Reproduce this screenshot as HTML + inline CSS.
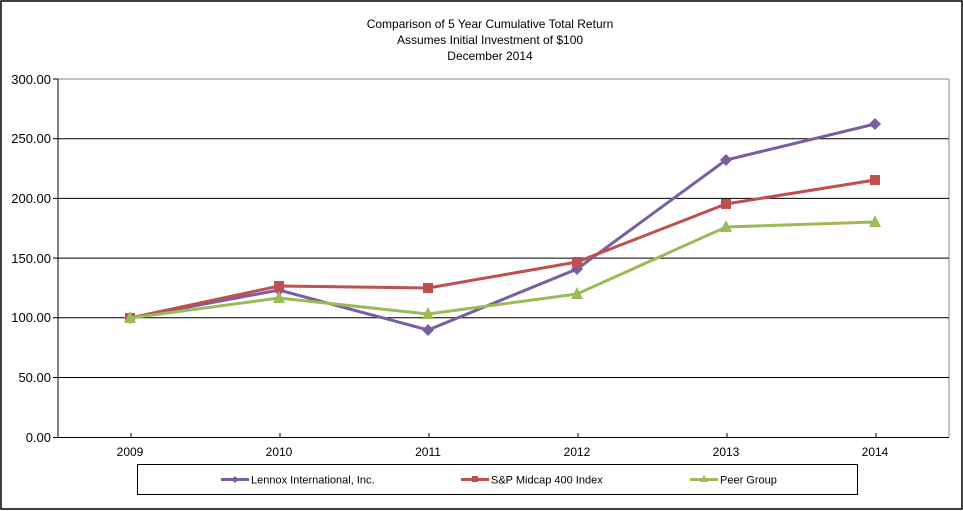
<!DOCTYPE html>
<html><head><style>
body{margin:0;background:#fff;}
svg{display:block;font-family:"Liberation Sans",Arial,sans-serif;}
</style></head><body>
<svg width="963" height="511" viewBox="0 0 963 511" xmlns="http://www.w3.org/2000/svg">
<rect x="1" y="1" width="961" height="508" fill="#fff" stroke="#000" stroke-width="1.5"/>
<g font-size="12" text-anchor="middle" fill="#000">
<text x="490" y="28">Comparison  of 5 Year Cumulative  Total Return</text>
<text x="490" y="44">Assumes Initial Investment  of $100</text>
<text x="490" y="60">December  2014</text>
</g>
<line x1="58" y1="79" x2="949" y2="79" stroke="#888"/>
<line x1="949" y1="79" x2="949" y2="437.5" stroke="#888"/>
<g stroke="#000" stroke-width="1">
<line x1="58" y1="138.7" x2="949" y2="138.7"/>
<line x1="58" y1="198.4" x2="949" y2="198.4"/>
<line x1="58" y1="258.1" x2="949" y2="258.1"/>
<line x1="58" y1="317.8" x2="949" y2="317.8"/>
<line x1="58" y1="377.5" x2="949" y2="377.5"/>
<line x1="58" y1="437.5" x2="949" y2="437.5"/>
<line x1="58" y1="79" x2="58" y2="437.5"/>
<line x1="53" y1="79" x2="58" y2="79"/><line x1="53" y1="138.7" x2="58" y2="138.7"/><line x1="53" y1="198.4" x2="58" y2="198.4"/><line x1="53" y1="258.1" x2="58" y2="258.1"/><line x1="53" y1="317.8" x2="58" y2="317.8"/><line x1="53" y1="377.5" x2="58" y2="377.5"/><line x1="53" y1="437.5" x2="58" y2="437.5"/>
<line x1="131" y1="433" x2="131" y2="437.5"/><line x1="280" y1="433" x2="280" y2="437.5"/><line x1="429" y1="433" x2="429" y2="437.5"/><line x1="578" y1="433" x2="578" y2="437.5"/><line x1="727" y1="433" x2="727" y2="437.5"/><line x1="876" y1="433" x2="876" y2="437.5"/>
</g>
<g font-size="13" text-anchor="end" fill="#000">
<text x="51" y="84">300.00</text><text x="51" y="143">250.00</text><text x="51" y="203">200.00</text><text x="51" y="263">150.00</text><text x="51" y="322">100.00</text><text x="51" y="382">50.00</text><text x="51" y="442">0.00</text>
</g>
<g font-size="12" text-anchor="middle" fill="#000">
<text x="130" y="456">2009</text><text x="279" y="456">2010</text><text x="428" y="456">2011</text><text x="577" y="456">2012</text><text x="726" y="456">2013</text><text x="875" y="456">2014</text>
</g>
<polyline fill="none" stroke="#7a5fa0" stroke-width="3" points="130,318 279,290 428,330 577,269 726,160 875,124"/>
<g fill="#7a5fa0">
<path d="M130,312 l6,6 -6,6 -6,-6z"/><path d="M279,284 l6,6 -6,6 -6,-6z"/><path d="M428,324 l6,6 -6,6 -6,-6z"/><path d="M577,263 l6,6 -6,6 -6,-6z"/><path d="M726,154 l6,6 -6,6 -6,-6z"/><path d="M875,118 l6,6 -6,6 -6,-6z"/>
</g>
<polyline fill="none" stroke="#c0504d" stroke-width="3" points="130,318 279,286 428,288 577,262 726,204 875,180"/>
<g fill="#c0504d">
<rect x="125" y="313" width="10" height="10"/><rect x="274" y="281" width="10" height="10"/><rect x="423" y="283" width="10" height="10"/><rect x="572" y="257" width="10" height="10"/><rect x="721" y="199" width="10" height="10"/><rect x="870" y="175" width="10" height="10"/>
</g>
<polyline fill="none" stroke="#9bbb59" stroke-width="3" points="130,318 279,298 428,314 577,294 726,227 875,222"/>
<g fill="#9bbb59">
<path d="M130,311 l6,12 -12,0z"/><path d="M279,291 l6,12 -12,0z"/><path d="M428,307 l6,12 -12,0z"/><path d="M577,287 l6,12 -12,0z"/><path d="M726,220 l6,12 -12,0z"/><path d="M875,215 l6,12 -12,0z"/>
</g>
<rect x="137.5" y="464.5" width="720" height="30" fill="#fff" stroke="#000"/>
<g font-size="11" fill="#000">
<line x1="221" y1="479.5" x2="249" y2="479.5" stroke="#7a5fa0" stroke-width="3"/><path d="M235,476 l3.5,3.5 -3.5,3.5 -3.5,-3.5z" fill="#7a5fa0"/>
<text x="251" y="483.5">Lennox International, Inc.</text>
<line x1="461" y1="479.5" x2="489" y2="479.5" stroke="#c0504d" stroke-width="3"/><rect x="472" y="476" width="6" height="6" fill="#c0504d"/>
<text x="491" y="483.5">S&amp;P Midcap 400 Index</text>
<line x1="690" y1="479.5" x2="718" y2="479.5" stroke="#9bbb59" stroke-width="3"/><path d="M704,475 l4,7 -8,0z" fill="#9bbb59"/>
<text x="720" y="483.5">Peer Group</text>
</g>
</svg>
</body></html>
